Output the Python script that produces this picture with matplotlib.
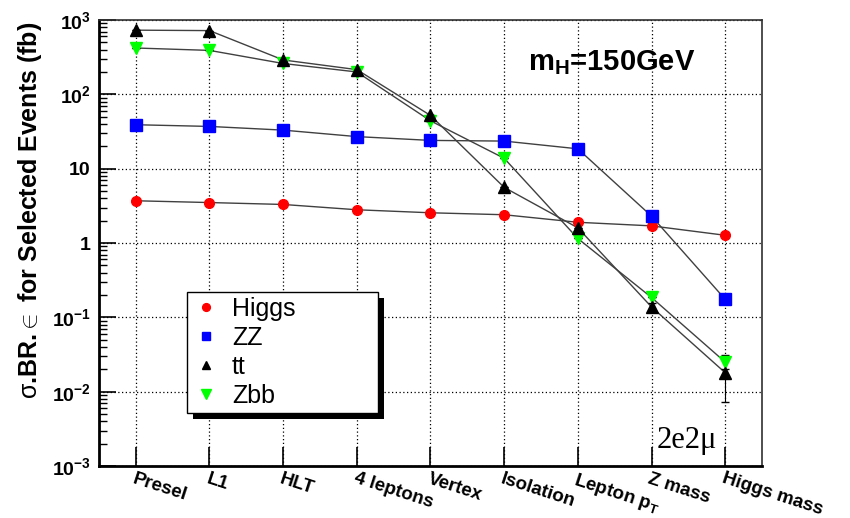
import matplotlib
matplotlib.use("Agg")
import matplotlib.pyplot as plt
import matplotlib.transforms as mtrans
from matplotlib.patches import Rectangle
import numpy as np

# selection steps
cuts = ["Presel", "L1", "HLT", "4 leptons", "Vertex", "Isolation",
        r"Lepton $\mathbf{p_T}$", "Z mass", "Higgs mass"]

# sigma.BR.eff (fb) after each cut
higgs = [3.7, 3.5, 3.3, 2.8, 2.55, 2.4, 1.9, 1.7, 1.27]
zz    = [39, 37, 33, 27, 24, 23.5, 18.5, 2.3, 0.175]
tt    = [730, 720, 290, 215, 52, 5.6, 1.6, 0.138, 0.018]
zbb   = [420, 390, 260, 200, 44, 13.8, 1.15, 0.185, 0.025]

# error bars (lower, upper), mostly negligible
zz_err  = [[0]*8 + [0.025], [0]*8 + [0.01]]
tt_err  = [[0]*7 + [0.02, 0.0107], [0]*7 + [0.02, 0.012]]
zbb_err = [[0]*8 + [0.005], [0]*8 + [0.006]]

plt.rcParams['font.family'] = ['Liberation Sans', 'DejaVu Sans']
plt.rcParams['mathtext.fontset'] = 'custom'
plt.rcParams['mathtext.rm'] = 'Liberation Sans'
plt.rcParams['mathtext.bf'] = 'Liberation Sans:bold'
plt.rcParams['mathtext.it'] = 'Liberation Sans:italic'

fig = plt.figure(figsize=(8.5, 5.18), dpi=100)
ax = fig.add_axes([99/850, 52/518, 663/850, 446/518])

x = np.arange(len(cuts))
lc = '#404040'

ax.plot(x, higgs, '-', color=lc, lw=1, zorder=2)
ax.plot(x, zz, '-', color=lc, lw=1, zorder=2)
ax.plot(x, tt, '-', color=lc, lw=1, zorder=2)
ax.plot(x, zbb, '-', color=lc, lw=1, zorder=2)

ax.errorbar(x, zz, yerr=zz_err, fmt='none', ecolor='black', elinewidth=0.8, capsize=3, zorder=3)
ax.errorbar(x, tt, yerr=tt_err, fmt='none', ecolor='black', elinewidth=0.8, capsize=3, zorder=3)
ax.errorbar(x, zbb, yerr=zbb_err, fmt='none', ecolor='black', elinewidth=0.8, capsize=3, zorder=3)

h1, = ax.plot(x, higgs, 'o', color='#ff0000', ms=7, mec='#ff0000', ls='none', zorder=4, label='Higgs')
h2, = ax.plot(x, zz, 's', color='#0000ff', ms=8, mec='#0000ff', ls='none', zorder=4, label='ZZ')
h4, = ax.plot(x, zbb, 'v', color='#00ff00', ms=9, mec='#00ff00', ls='none', zorder=4, label='Zbb')
h3, = ax.plot(x, tt, '^', color='black', ms=8, ls='none', zorder=5, label='tt')

ax.set_yscale('log')
ax.set_ylim(1e-3, 1e3)
ax.set_xlim(-0.5, 8.5)

yt = [1e-3, 1e-2, 1e-1, 1, 10, 1e2, 1e3]
ytl = [r'$\mathbf{10^{-3}}$', r'$\mathbf{10^{-2}}$', r'$\mathbf{10^{-1}}$', '1', '10',
       r'$\mathbf{10^{2}}$', r'$\mathbf{10^{3}}$']
ax.set_yticks(yt)
ax.set_yticklabels(ytl, fontsize=14, fontweight='bold')
ax.set_xticks(x)
ax.set_xticklabels(cuts, fontsize=13.5, fontweight='bold', rotation=-18,
                   ha='left', va='top', rotation_mode='anchor')
for t in ax.get_xticklabels():
    t.set_transform(t.get_transform() + mtrans.ScaledTranslation(-4/100, 3/100, fig.dpi_scale_trans))

ax.tick_params(axis='y', which='major', direction='in', length=12, width=1.2, pad=6)
ax.tick_params(axis='y', which='minor', direction='in', length=6, width=1)
ax.tick_params(axis='x', which='major', direction='in', length=14, width=1.2, pad=3)
ax.yaxis.set_minor_locator(matplotlib.ticker.LogLocator(base=10, subs=np.arange(2, 10)))
ax.yaxis.set_minor_formatter(matplotlib.ticker.NullFormatter())

ax.grid(True, which='major', ls=(0, (1, 2)), color='black', lw=0.9)
for s in ['left', 'bottom']:
    ax.spines[s].set_linewidth(2)
for s in ['top', 'right']:
    ax.spines[s].set_linewidth(1.2)
    ax.spines[s].set_color('#303030')

ax.set_ylabel(r'$\mathrm{\sigma}$.BR.$\mathrm{\in}$ for Selected Events (fb)', fontsize=18, fontweight='bold')
ax.yaxis.set_label_coords(-0.083, 0.574)

ax.text(612, 518 - 70, r'm$_\mathbf{H}$=150GeV', transform=mtrans.IdentityTransform(),
        fontsize=21, fontweight='bold', ha='center', va='baseline')
ax.text(687, 518 - 448, '2e2\u03bc', transform=mtrans.IdentityTransform(), fontsize=22,
        family='Liberation Serif', ha='center', va='baseline')

# legend with drop shadow
leg = ax.legend(handles=[h1, h2, h3, h4], loc='upper left', mode='expand',
                bbox_to_anchor=(187/850, 96/518, 191/850, 130/518), bbox_transform=fig.transFigure,
                fontsize=18, frameon=True, fancybox=False, shadow=False,
                edgecolor='black', framealpha=1, borderpad=0.2, labelspacing=0.2,
                handletextpad=0.5, handlelength=1.1, markerscale=0.8, borderaxespad=0)
leg.get_frame().set_linewidth(1)
leg.set_zorder(10)
fig.canvas.draw()
bb = leg.get_window_extent()
shadow = Rectangle((bb.x0 + 6, bb.y0 - 6), bb.width, bb.height,
                   transform=mtrans.IdentityTransform(),
                   facecolor='black', edgecolor='none', zorder=9)
ax.add_artist(shadow)

fig.savefig('out.png', dpi=100)
